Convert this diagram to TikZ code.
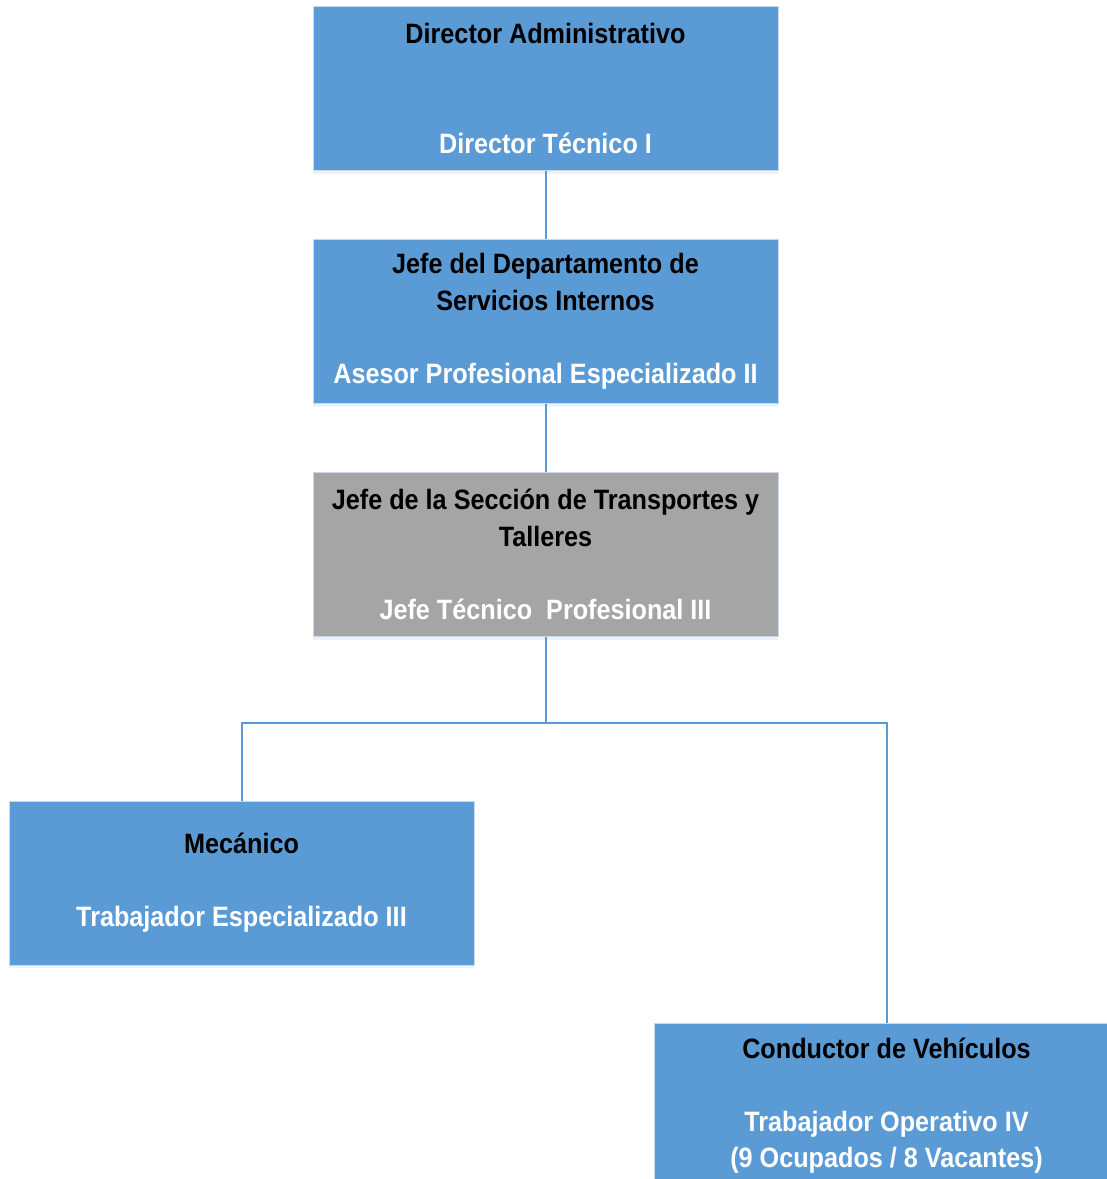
\documentclass[tikz,border=0pt]{standalone}
\usepackage{fontspec}
\setmainfont{Liberation Sans}[FakeStretch=0.9]
\usetikzlibrary{positioning, shadows}

\definecolor{azulcargo}{HTML}{5B9BD5}
\definecolor{griscargo}{HTML}{A5A5A5}
\definecolor{bordecargo}{HTML}{C9D9EA}

\tikzset{
  cargo/.style={rectangle, fill=azulcargo, draw=bordecargo, line width=1pt,
    minimum width=465pt, minimum height=164pt, align=center, inner sep=0pt,
    font=\fontsize{28}{36.5}\selectfont\bfseries,
    drop shadow={shadow xshift=0pt, shadow yshift=-3pt, opacity=0.12, fill=azulcargo}},
  cargogris/.style={cargo, fill=griscargo},
  enlace/.style={draw=azulcargo, line width=2pt}
}
\newcommand{\rol}[1]{\textcolor{white}{#1}}

\begin{document}
\begin{tikzpicture}[x=1pt, y=-1pt, node distance=68pt]
\useasboundingbox (0,0) rectangle (1107,1179);
\clip (0,0) rectangle (1107,1179);

\node[cargo] (dirAdm) at (545.5,88.5)
  {Director Administrativo\\\mbox{}\\\mbox{}\\\rol{Director Técnico I}};
\node[cargo, below=of dirAdm] (jefeServ)
  {Jefe del Departamento de\\Servicios Internos\\\mbox{}\\\rol{Asesor Profesional Especializado II}};
\node[cargogris, below=of jefeServ] (jefeSec)
  {Jefe de la Sección de Transportes y\\Talleres\\\mbox{}\\\rol{Jefe Técnico\ \ Profesional III}};
\node[cargo] (mecanico) at (241.5,883)
  {Mecánico\\\mbox{}\\\rol{Trabajador Especializado III}};
\node[cargo] (conductor) at (886.5,1105.5)
  {Conductor de Vehículos\\\mbox{}\\\rol{Trabajador Operativo IV}\\\rol{(9 Ocupados / 8 Vacantes)}};

\draw[enlace] (dirAdm) -- (jefeServ);
\draw[enlace] (jefeServ) -- (jefeSec);
\draw[enlace] (jefeSec.south) -- ++(0,86) coordinate (ramal);
\draw[enlace] (ramal) -| (mecanico.north);
\draw[enlace] (ramal) -| (conductor.north);
\end{tikzpicture}
\end{document}
